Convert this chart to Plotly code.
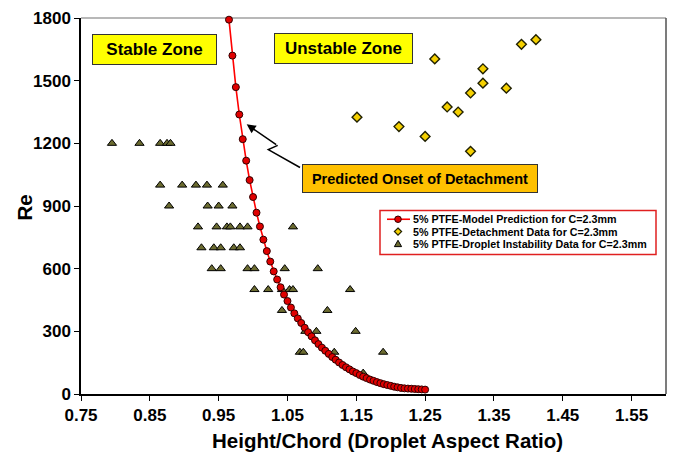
import plotly.graph_objects as go

# ---------------- data ----------------
model_x = [0.965, 0.970, 0.975, 0.980, 0.985, 0.990, 0.995, 1.000, 1.005, 1.010,
           1.015, 1.020, 1.025, 1.030, 1.035, 1.040, 1.045, 1.050, 1.055, 1.060,
           1.065, 1.070, 1.075, 1.080, 1.085, 1.090, 1.095, 1.100, 1.105, 1.110,
           1.115, 1.120, 1.125, 1.130, 1.135, 1.140, 1.145, 1.150, 1.155, 1.160,
           1.165, 1.170, 1.175, 1.180, 1.185, 1.190, 1.195, 1.200, 1.205, 1.210,
           1.215, 1.220, 1.225, 1.230, 1.235, 1.240, 1.245, 1.250]
model_re = [1792, 1620, 1469, 1338, 1220, 1117, 1024, 943, 868, 802,
            739, 684, 634, 587, 548, 511, 476, 445, 414, 386,
            362, 340, 317, 296, 276, 257, 239, 222, 207, 192,
            177, 164, 151, 139, 128, 118, 108, 100, 91, 83,
            76, 69, 63, 57, 52, 47, 43, 39, 35, 32,
            29, 27, 26, 25, 24, 23, 22, 21]

detach_x = [1.151, 1.212, 1.250, 1.264, 1.282, 1.298, 1.316, 1.316, 1.334, 1.334, 1.368, 1.390, 1.411]
detach_re = [1325, 1280, 1233, 1604, 1374, 1350, 1441, 1162, 1557, 1488, 1464, 1674, 1696]

inst_x = [0.795, 0.835, 0.865, 0.875, 0.880,
          0.865, 0.897, 0.917, 0.933, 0.956,
          0.878, 0.934, 0.950, 0.970,
          0.920, 0.947, 0.962, 0.967, 0.981, 0.992, 1.058,
          0.925, 0.943, 0.953, 0.972, 0.981,
          0.940, 0.953, 0.992, 1.002, 1.046, 1.094,
          1.002, 1.022, 1.042, 1.053, 1.058, 1.141,
          1.042, 1.108,
          1.076, 1.092, 1.149,
          1.068, 1.073, 1.118, 1.189,
          1.160]
inst_re = [1200, 1200, 1200, 1200, 1200,
           1000, 1000, 1000, 1000, 1000,
           900, 900, 900, 900,
           800, 800, 800, 800, 800, 800, 800,
           700, 700, 700, 700, 700,
           600, 600, 600, 600, 600, 600,
           500, 500, 500, 500, 500, 500,
           400, 400,
           300, 300, 300,
           200, 200, 200, 200,
           100]

series_names = ["5% PTFE-Model Prediction for C=2.3mm",
                "5% PTFE-Detachment Data for C=2.3mm",
                "5% PTFE-Droplet Instability Data for C=2.3mm"]

x_ticks = [0.75, 0.85, 0.95, 1.05, 1.15, 1.25, 1.35, 1.45, 1.55]
y_ticks = [0, 300, 600, 900, 1200, 1500, 1800]

# ---------------- layout helpers ----------------
W, H = 675, 459
L, R, T, B = 81, 9, 11, 65
PW, PH = W - L - R, H - T - B
FONT = "Liberation Sans, Arial, sans-serif"

C_MODEL, C_MODEL_LINE, C_MODEL_EDGE = "#e00000", "#ff0000", "#300000"
C_DET, C_DET_EDGE = "#f5d000", "#202000"
C_INST, C_INST_EDGE = "#6b6b30", "#000000"


def px(xp):
    return (xp - L) / PW


def py(yp):
    return 1 - (yp - T) / PH


fig = go.Figure()

fig.add_trace(go.Scatter(
    x=inst_x, y=inst_re, mode="markers", name=series_names[2],
    marker=dict(symbol="triangle-up", size=8, color=C_INST,
                line=dict(color=C_INST_EDGE, width=1)),
))
fig.add_trace(go.Scatter(
    x=detach_x, y=detach_re, mode="markers", name=series_names[1],
    marker=dict(symbol="diamond", size=7.5, color=C_DET,
                line=dict(color=C_DET_EDGE, width=1.4)),
))
fig.add_trace(go.Scatter(
    x=model_x, y=model_re, mode="lines+markers", name=series_names[0],
    line=dict(color=C_MODEL_LINE, width=1.6),
    marker=dict(symbol="circle", size=7, color=C_MODEL,
                line=dict(color=C_MODEL_EDGE, width=1)),
    cliponaxis=False,
))

tickfont = dict(family=FONT, size=17, color="#000000", weight="bold")

fig.update_layout(
    width=W, height=H,
    margin=dict(l=L, r=R, t=T, b=B, pad=0),
    paper_bgcolor="white", plot_bgcolor="white",
    showlegend=False,
    xaxis=dict(
        range=[0.75, 1.6], tickvals=x_ticks,
        ticktext=[f"{v:.2f}" for v in x_ticks],
        ticks="outside", ticklen=5, tickwidth=1.2, tickcolor="#000000",
        showline=True, linecolor="#000000", linewidth=1.5,
        showgrid=False, zeroline=False, tickfont=tickfont,
    ),
    yaxis=dict(
        range=[0, 1800], tickvals=y_ticks,
        ticks="outside", ticklen=5, tickwidth=1.2, tickcolor="#000000",
        showline=True, linecolor="#000000", linewidth=1.5,
        showgrid=False, zeroline=False, tickfont=tickfont,
    ),
)

# plot frame top / right
fig.add_shape(type="line", xref="paper", yref="paper", x0=0, x1=1, y0=1, y1=1,
              line=dict(color="#a0a0a0", width=1.5), layer="below")
fig.add_shape(type="line", xref="paper", yref="paper", x0=1, x1=1, y0=0, y1=1,
              line=dict(color="#505050", width=1.5), layer="below")

# axis titles
fig.add_annotation(xref="paper", yref="paper", x=px(387), y=py(441),
                   xanchor="center", yanchor="middle",
                   text="Height/Chord (Droplet Aspect Ratio)", showarrow=False,
                   font=dict(family=FONT, size=20.5, color="#000000", weight="bold"))
fig.add_annotation(xref="paper", yref="paper", x=px(24), y=py(204),
                   xanchor="center", yanchor="middle",
                   text="Re", showarrow=False, textangle=-90,
                   font=dict(family=FONT, size=20.5, color="#000000", weight="bold"))

# zone labels
boxfont = dict(family=FONT, size=17, color="#000000", weight="bold")
fig.add_annotation(xref="paper", yref="paper", x=px(154.5), y=py(43),
                   xanchor="center", yanchor="middle",
                   text="Stable Zone", showarrow=False, font=boxfont,
                   bgcolor="#ffff00", bordercolor="#333333", borderwidth=1,
                   borderpad=0, width=123, height=29)
fig.add_annotation(xref="paper", yref="paper", x=px(343.5), y=py(42.5),
                   xanchor="center", yanchor="middle",
                   text="Unstable Zone", showarrow=False, font=boxfont,
                   bgcolor="#ffff00", bordercolor="#333333", borderwidth=1,
                   borderpad=0, width=137, height=29)
fig.add_annotation(xref="paper", yref="paper", x=px(420), y=py(174),
                   xanchor="center", yanchor="middle",
                   text="Predicted Onset of Detachment", showarrow=False,
                   font=dict(family=FONT, size=14.5, color="#000000", weight="bold"),
                   bgcolor="#ffc000", bordercolor="#333333", borderwidth=1,
                   borderpad=0, width=234, height=27)

# zig-zag arrow
fig.add_shape(type="path", xref="paper", yref="paper",
              path=(f"M {px(300)} {py(163.3)} L {px(268.3)} {py(145)} "
                    f"L {px(277.7)} {py(140.7)}"),
              line=dict(color="#000000", width=1.5))
fig.add_annotation(xref="paper", yref="paper", x=px(246.7), y=py(119.3),
                   ax=31, ay=21.4, text="", showarrow=True,
                   arrowhead=2, arrowsize=1.2, arrowwidth=1.5,
                   arrowcolor="#000000", standoff=0)

# ---------------- custom legend ----------------
LG_X0, LG_X1, LG_Y0, LG_Y1 = 380, 656, 207, 252
rows = [216, 228.5, 241]
sym_x, text_x = 398, 411
fig.add_shape(type="rect", xref="paper", yref="paper",
              x0=px(LG_X0), x1=px(LG_X1), y0=py(LG_Y1), y1=py(LG_Y0),
              fillcolor="white", line=dict(color="#e02020", width=1.5))
# model: line + circle
fig.add_shape(type="line", xref="paper", yref="paper",
              x0=px(387), x1=px(410), y0=py(rows[0]), y1=py(rows[0]),
              line=dict(color=C_MODEL_LINE, width=1.6))
r = 3.3
fig.add_shape(type="circle", xref="paper", yref="paper",
              x0=px(sym_x - r), x1=px(sym_x + r), y0=py(rows[0] + r), y1=py(rows[0] - r),
              fillcolor=C_MODEL, line=dict(color=C_MODEL_EDGE, width=1))
# detachment: diamond
d = 3.6
yc = rows[1]
fig.add_shape(type="path", xref="paper", yref="paper",
              path=(f"M {px(sym_x)} {py(yc - d)} L {px(sym_x + d)} {py(yc)} "
                    f"L {px(sym_x)} {py(yc + d)} L {px(sym_x - d)} {py(yc)} Z"),
              fillcolor=C_DET, line=dict(color=C_DET_EDGE, width=1.2))
# instability: triangle
t = 3.6
yc = rows[2]
fig.add_shape(type="path", xref="paper", yref="paper",
              path=(f"M {px(sym_x)} {py(yc - t)} L {px(sym_x + t)} {py(yc + t * 0.8)} "
                    f"L {px(sym_x - t)} {py(yc + t * 0.8)} Z"),
              fillcolor=C_INST, line=dict(color=C_INST_EDGE, width=1))
for name, yr in zip(series_names, rows):
    fig.add_annotation(xref="paper", yref="paper", x=px(text_x), y=py(yr),
                       xanchor="left", yanchor="middle", text=name, showarrow=False,
                       font=dict(family=FONT, size=10.7, color="#000000", weight="bold"))

fig.write_html("out.html")
